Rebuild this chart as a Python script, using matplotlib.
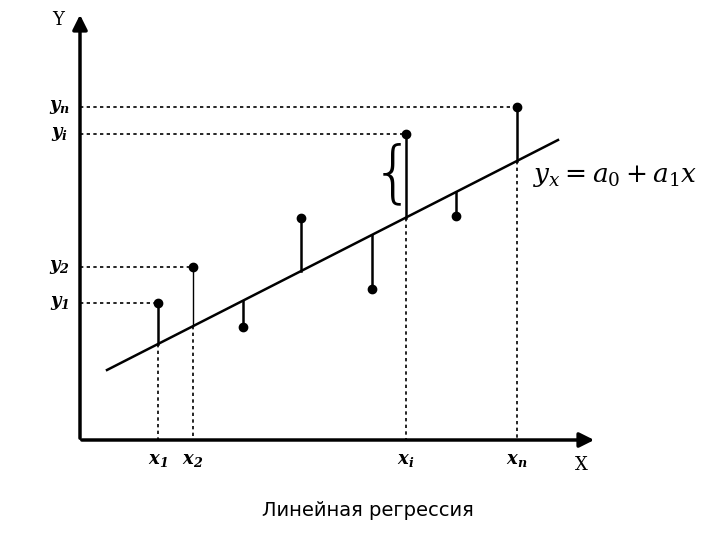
import matplotlib.pyplot as plt

# diagram coordinates (pixel-like units, y grows downward)
px = [158, 193, 243, 301, 372, 406, 456, 517]
py = [303, 267, 327, 218, 289, 134, 216, 107]
line_x = [107, 558]
line_y = [370, 140]
x_labels = {0: '$\\mathbfit{x_1}$', 1: '$\\mathbfit{x_2}$', 5: '$\\mathbfit{x_i}$', 7: '$\\mathbfit{x_n}$'}
y_labels = {0: '$\\mathbfit{y_1}$', 1: '$\\mathbfit{y_2}$', 5: '$\\mathbfit{y_i}$', 7: '$\\mathbfit{y_n}$'}

plt.rcParams['mathtext.fontset'] = 'dejavuserif'
fig = plt.figure(figsize=(7.2, 5.4), dpi=100)
ax = fig.add_axes([0, 0, 1, 1])
ax.set_xlim(0, 720)
ax.set_ylim(540, 0)
ax.axis('off')

ox, oy = 80, 440
ax.annotate('', xy=(ox, 12), xytext=(ox, oy + 1),
            arrowprops=dict(arrowstyle='-|>', lw=2.5, color='k', mutation_scale=22))
ax.annotate('', xy=(597, oy), xytext=(ox - 1, oy),
            arrowprops=dict(arrowstyle='-|>', lw=2.5, color='k', mutation_scale=22))
ax.text(52, 20, 'Y', fontsize=13, family='DejaVu Serif', va='center')
ax.text(575, 465, 'X', fontsize=13, family='DejaVu Serif', va='center')

ax.plot(line_x, line_y, color='k', lw=1.8)
slope = (line_y[1] - line_y[0]) / (line_x[1] - line_x[0])
for i, (x, y) in enumerate(zip(px, py)):
    ly = line_y[0] + slope * (x - line_x[0])
    ax.plot([x, x], [y, ly], color='k', lw=1.8 if i != 1 else 1.0)
    ax.plot(x, y, 'o', color='k', ms=6)
    if i in x_labels:
        ax.plot([x, x], [ly, oy], color='k', ls=(0, (2, 2)), lw=1.2)
        ax.text(x, 460, x_labels[i], fontsize=13, ha='center', va='center')
    if i in y_labels:
        ax.plot([ox, x], [y, y], color='k', ls=(0, (2, 2)), lw=1.2)
        ax.text(60, y, y_labels[i], fontsize=13, ha='center', va='center')

ax.text(393, 175, '{', fontsize=48, family='DejaVu Sans', ha='center', va='center',
        fontweight='ultralight', color='k')
ax.text(533, 176, '$y_x = a_0 + a_1 x$', fontsize=19, va='center')
ax.text(368, 511, 'Линейная регрессия', fontsize=14, ha='center', va='center')

fig.savefig('out.png', dpi=100)
